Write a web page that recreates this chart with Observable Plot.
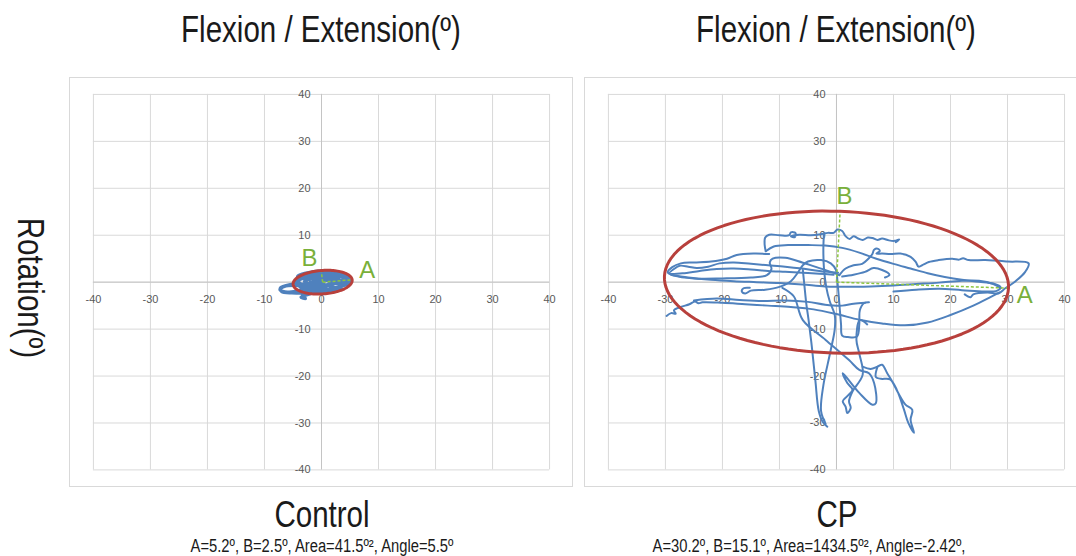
<!DOCTYPE html>
<html>
<head>
<meta charset="utf-8">
<script src="https://cdn.jsdelivr.net/npm/d3@7"></script>
<script src="https://cdn.jsdelivr.net/npm/@observablehq/plot@0.6"></script>
<style>
  body { margin: 0; background: #ffffff; }
  #root { position: relative; width: 1076px; height: 556px; overflow: hidden; background: #fff;
          font-family: "Liberation Sans", Arial, sans-serif; color: #1a1a1a; }
  .lbl { position: absolute; white-space: nowrap; transform: translate(-50%, -50%) scaleX(0.82); line-height: 1; }
  .big { font-size: 36px; }
  .sub { font-size: 18px; }
  .panel { position: absolute; top: 77px; height: 410px; border: 1px solid #d9d9d9; box-sizing: border-box; background: #fff; }
  .panel svg { position: absolute; left: -1px; top: -1px; }
</style>
</head>
<body>
<div id="root">
  <div class="lbl big" style="left:321px; top:30px;">Flexion / Extension(º)</div>
  <div class="lbl big" style="left:836px; top:30px;">Flexion / Extension(º)</div>
  <div class="lbl big" style="left:30px; top:288px; transform: translate(-50%, -50%) rotate(90deg) scaleX(0.82);">Rotation(º)</div>
  <div id="p1" class="panel" style="left:69px; width:504px;"></div>
  <div id="p2" class="panel" style="left:584px; width:494px;"></div>
  <div class="lbl big" style="left:322px; top:515px;">Control</div>
  <div class="lbl sub" style="left:322px; top:546px;">A=5.2º, B=2.5º, Area=41.5º², Angle=5.5º</div>
  <div class="lbl big" style="left:837px; top:515px;">CP</div>
  <div class="lbl sub" style="left:809px; top:546px;">A=30.2º, B=15.1º, Area=1434.5º², Angle=-2.42º,</div>
</div>
<script>
// ---- axis ticks ----
const ticks = [-40, -30, -20, -10, 0, 10, 20, 30, 40];

// ---- fitted ellipses: [centerX, centerY, A, B, angleDeg] ----
const ctrlEllipse = [0.2, 0.0, 5.2, 2.5, 5.5];
const cpEllipse = [0.0, 0.0, 30.2, 15.1, -2.42];

// ---- A / B label positions ----
const ctrlLabels = [["B", -2.1, 5.0], ["A", 8.0, 2.5]];
const cpLabels = [["B", 1.4, 18.3], ["A", 33.0, -2.8]];

// ---- Control trajectory (Flexion/Extension, Rotation) ----
const ctrlPath = [
  [-3.0,-0.4],[-5.5,-0.5],[-7.2,-1.2],[-7.0,-2.0],[-5.2,-2.3],[-3.0,-2.2],[-1.5,-1.6],[0.5,-1.0],[2.5,-0.2],[4.2,0.6],
  [4.8,1.2],[3.5,1.9],[1.5,2.1],[-0.5,1.9],[-2.5,1.4],[-4.0,0.6],[-4.3,-0.3],[-3.5,-1.2],[-2.0,-1.8],[0.0,-2.0],
  [2.0,-1.6],[3.8,-0.8],[4.9,0.2],[4.5,1.0],[3.0,1.3],[1.0,1.0],[-1.0,0.3],[-3.0,-0.8],[-3.6,-1.8],[-3.2,-2.9],
  [-2.8,-3.5],[-3.6,-3.2],[-2.0,-2.5],[0.0,-1.2],[2.0,0.2],[3.5,1.5],[2.0,2.3],[0.0,2.2],[-2.0,1.7],[-3.8,1.0],
  [-4.6,0.2],[-3.0,0.9],[-1.0,1.2],[1.0,0.4],[3.0,-0.4],[4.6,-0.6],[5.2,0.2],[4.0,-0.2],[2.5,0.8],[0.5,1.5],
  [-1.5,0.8],[-3.0,0.2],[-2.0,-0.6],[0.0,-0.4],[2.0,-1.0],[3.5,-1.4],[1.5,-2.1],[-0.5,-2.3],[-2.5,-1.0],[-4.5,-0.7],
  [-6.5,-0.9],[-7.3,-1.6],[-6.0,-2.1],[-4.0,-1.8],[-1.0,-0.2],[1.5,0.6],[4.0,1.6],[1.0,2.4],[-2.5,2.0],[-4.2,1.2],
  [-3.8,-0.2],[-1.5,-1.2],[1.0,-1.5],[3.2,-0.9],[4.4,0.3],[2.8,1.7],[0.3,1.2],[-2.0,0.4],[-0.8,-0.9],[1.8,-0.3],
  [3.8,0.9],[1.2,1.9],[-1.8,1.3],[-3.2,-1.4],[-1.0,-1.9],[2.4,-1.2],[4.3,-0.2]
];

// ---- CP trajectory strokes ----
const cpS1 = [[-12.4,6.6],[-12.6,8.0],[-12.5,9.5],[-11.8,10.1],[-10,10.0],[-8.3,10.0],[-8.0,10.6],[-7.2,10.5],[-7.3,9.6],[-8.0,9.8],
  [-6.5,10.1],[-4.5,10.0],[-2.8,10.2],[-1.5,10.5],[-0.5,10.5],[0.2,11.2],[1.0,10.9],[1.6,9.8],[2.3,9.2],[3.0,9.8],[3.8,9.3],
  [4.6,9.0],[5.5,9.5],[6.3,9.4],[7.2,9.0],[8.0,9.3],[9.2,8.9],[10.2,8.8],[11.0,9.1],[10.4,8.5]];
const cpS2 = [[-12.4,6.6],[-11.0,7.6],[-8.5,7.9],[-5,7.9],[-2,7.8],[1,7.3],[4,6.3],[7,5.0],[10,3.9],[13,2.9],[16,1.9],
  [19,1.1],[22,0.5],[25,0.1],[27.5,-0.3],[28.8,-1.1],[28.2,-1.8],[26,-2.0],[22,-1.7],[18,-1.4],[14,-1.6],[10,-2.0]];
const cpS3 = [[0.5,1.5],[1.6,2.9],[3.0,3.6],[4.5,3.9],[5.6,5.0],[6.3,6.0],[6.6,6.9],[7.3,7.1],[7.6,6.6],[7.0,6.1],[8.0,6.1],
  [9.5,6.0],[11.2,6.1],[13.0,5.4],[13.9,4.3],[14.4,3.3],[15.3,3.8],[16.2,4.3],[17.9,4.7],[20.3,5.0],[21.5,4.8],[22.2,5.1],
  [23.2,4.7],[26.1,4.7],[30,4.4],[33.7,4.0],[33.1,2.2],[31.3,0.1],[29.6,-1.3],[28.4,-2.4],[26.5,-2.2],[24,-2.6],[23.5,-3.2],[22.5,-2.6]];
const cpS4 = [[1.0,1.2],[3,1.6],[5,2.2],[6.5,3.0],[8,2.6],[9.3,1.6],[8.5,1.0]];
const cpS5 = [[-11.8,6.0],[-14.5,6.1],[-17.5,5.8],[-19.2,5.0],[-22,4.4],[-25,4.2],[-27.3,4.0],[-28.8,3.2],[-29.6,2.1],[-28.5,1.4],
  [-25,0.8],[-20,0.8],[-15,1.0],[-12.2,1.5],[-11.4,2.8],[-11.7,4.2],[-11.2,5.0],[-9,5.2],[-6,4.2],[-3,3.0],[-1,2.2],[0.5,1.5]];
const cpS6 = [[0.3,2.0],[-3,2.4],[-6,2.9],[-9,3.3],[-12,3.6],[-15,3.9],[-18,4.2],[-20.5,4.0],[-22.5,3.3],[-24.5,3.0],[-26,3.3],
  [-27.5,3.5],[-28.5,2.8],[-29.3,1.9],[-27,1.9],[-24,2.4],[-21,2.8],[-18,2.9],[-15,2.7],[-12,2.4],[-9,2.2],[-6,2.0],[-3,1.8],[-0.5,1.6]];
const cpS7 = [[-29.0,1.6],[-26,1.0],[-22,0.5],[-18,0.2],[-14,0.0],[-10,-0.2],[-6,-0.5],[-2,-0.9],[2,-1.0],[6,-0.9],[10,-0.7],
  [14,-0.4],[18,-0.1],[22,0.3],[25,0.3],[27.5,-0.4],[28.8,-1.3]];
const cpS8 = [[-15.2,-1.2],[-16.3,-1.3],[-16.6,-2.0],[-16.0,-2.4],[-15.0,-1.8],[-12.5,-1.6],[-10,-1.0],[-8,0.2],[-6.8,2.0],
  [-5.9,3.6],[-5.0,4.4],[-2.7,4.7],[-1.0,4.0],[-0.1,2.6],[0.2,-0.3],[0.5,-4.5],[0.8,-9],[1.0,-11.4],[2.0,-11.7],[3.6,-11.6],
  [4.0,-9],[4.1,-6],[4.8,-4.5],[5.7,-4.3]];
const cpS9 = [[-2.2,10.4],[-2.3,7],[-2.2,3],[-1.8,-1],[-1.2,-4],[-0.3,-7],[-0.3,-10],[-1.1,-15],[-2.3,-22],[-2.7,-27.5],[-1.9,-30.2]];
const cpS10 = [[-5.9,2.6],[-5.6,-1],[-5.3,-4.5],[-4.9,-8],[-4.3,-14],[-3.7,-21],[-3.1,-27.5],[-2.4,-29.8],[-1.6,-30.8]];
const cpS11 = [[-29.8,-7.2],[-29.0,-6.6],[-28.2,-6.7],[-28.5,-6.0],[-27.3,-5.3],[-25.8,-4.7],[-24.8,-4.1],[-24.2,-4.5],[-23.5,-4.3],
  [-20,-4.4],[-16,-4.7],[-12,-5.0],[-8,-5.3],[-4,-5.8],[0,-6.8],[4,-8.0],[8,-8.8],[12,-9.2],[16,-8.6],[20,-7.0],[24,-5.0],[27,-3.2],[28.6,-2.2]];
const cpS12 = [[-25,-3.9],[-21,-3.5],[-17,-3.8],[-13,-4.0],[-9,-3.9],[-5,-4.2],[-2,-4.8],[1,-5.0],[3,-4.6],[5,-4.4]];
const cpS13 = [[-9.5,-1.2],[-7.5,-3],[-5.9,-8.1],[-1.9,-12.3],[2.2,-16.6],[4.0,-18.7],[5.7,-19.4],[6.6,-21.5],[6.9,-25.8],[6.3,-26.1],
  [4,-23.6],[1.1,-19.4],[1.9,-21.5],[2.8,-22.9],[1.9,-24.3],[1.1,-25.4],[1.6,-26.5],[1.9,-27.9],[2.5,-26.8],[2.2,-25.4],[2.8,-23.3],
  [4.6,-19.7],[4.0,-15.2],[3.5,-12.3],[4.1,-8.1],[5.4,-9.0]];
const cpS14 = [[4.6,-18.0],[6,-18.5],[7.2,-18.0],[8.0,-17.6],[8.9,-19.4],[9.8,-21.2],[11,-24],[12.1,-26.1],[13.3,-27.2],[13.0,-29.3],
  [13.6,-32.1],[12.6,-30],[11.8,-27],[10.6,-23],[9.4,-20.7],[7.8,-20.6],[6.9,-20.2],[7.2,-18.0]];
const cpStrokes = [cpS1, cpS2, cpS3, cpS4, cpS5, cpS6, cpS7, cpS8, cpS9, cpS10, cpS11, cpS12, cpS13, cpS14];

// ---- helpers ----
function ellipsePoints([cx, cy, a, b, deg]) {
  const t = deg * Math.PI / 180, pts = [];
  for (let i = 0; i < 120; i++) {
    const u = i / 120 * 2 * Math.PI;
    pts.push({x: cx + a * Math.cos(u) * Math.cos(t) - b * Math.sin(u) * Math.sin(t),
              y: cy + a * Math.cos(u) * Math.sin(t) + b * Math.sin(u) * Math.cos(t)});
  }
  return pts;
}
function axesLinks([cx, cy, a, b, deg]) {
  const t = deg * Math.PI / 180;
  return [
    {x1: cx, y1: cy, x2: cx + a * Math.cos(t), y2: cy + a * Math.sin(t)},
    {x1: cx, y1: cy, x2: cx - b * Math.sin(t), y2: cy + b * Math.cos(t)}
  ];
}

const BLUE = "#4f81bd", RED = "#b8403c", GREEN = "#79b03a", GREEN_D = "#8cc63f";
const tickFont = "Liberation Sans, Arial, sans-serif";

function panel(strokes, ell, labels, width, marginRight, lineW, curve) {
  const rows = strokes.flatMap((s, i) => s.map(([x, y]) => ({x, y, s: i})));
  return Plot.plot({
    width, height: 410,
    marginLeft: 24, marginRight, marginTop: 17, marginBottom: 16,
    x: {domain: [-40, 40], axis: null},
    y: {domain: [-40, 40], axis: null},
    style: {background: "transparent", overflow: "visible"},
    marks: [
      Plot.gridX(ticks, {stroke: "#d9d9d9", strokeOpacity: 1}),
      Plot.gridY(ticks, {stroke: "#d9d9d9", strokeOpacity: 1}),
      Plot.ruleX([0], {stroke: "#c4c4c4", strokeWidth: 1}),
      Plot.ruleY([0], {stroke: "#c4c4c4", strokeWidth: 1}),
      Plot.text(ticks, {x: d => d, y: 0, dy: 17, text: d => String(d), fontSize: 11, fill: "#595959", fontFamily: tickFont}),
      Plot.text(ticks, {x: 0, y: d => d, dx: -11, textAnchor: "end", text: d => String(d), fontSize: 11, fill: "#595959", fontFamily: tickFont}),
      Plot.line(rows, {x: "x", y: "y", z: "s", stroke: BLUE, strokeWidth: lineW, curve, strokeLinejoin: "round"}),
      Plot.link(axesLinks(ell), {x1: "x1", y1: "y1", x2: "x2", y2: "y2", stroke: GREEN_D, strokeWidth: 1.5, strokeDasharray: "3,2"}),
      Plot.line(ellipsePoints(ell), {x: "x", y: "y", stroke: RED, strokeWidth: 3, curve: "linear-closed"}),
      Plot.text(labels, {x: d => d[1], y: d => d[2], text: d => d[0], fill: GREEN, fontSize: 24, fontFamily: tickFont})
    ]
  });
}

document.getElementById("p1").appendChild(panel([ctrlPath], ctrlEllipse, ctrlLabels, 504, 22, 3.2, "catmull-rom"));
document.getElementById("p2").appendChild(panel(cpStrokes, cpEllipse, cpLabels, 494, 12, 2, "catmull-rom"));
</script>
</body>
</html>
